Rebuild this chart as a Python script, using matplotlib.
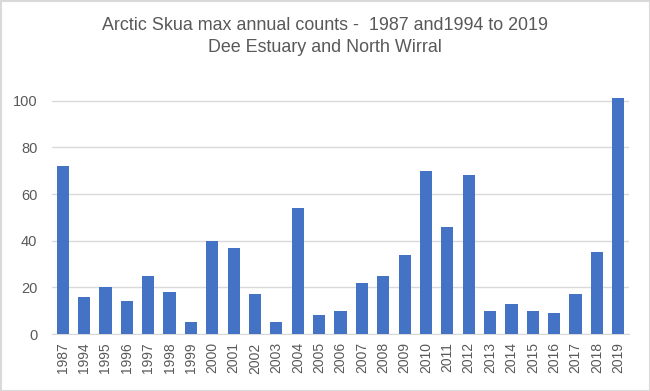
import matplotlib
matplotlib.use("Agg")
import matplotlib.pyplot as plt
from matplotlib.patches import Rectangle

years = ["1987", "1994", "1995", "1996", "1997", "1998", "1999", "2000", "2001",
         "2002", "2003", "2004", "2005", "2006", "2007", "2008", "2009", "2010",
         "2011", "2012", "2013", "2014", "2015", "2016", "2017", "2018", "2019"]
counts = [72, 16, 20, 14, 25, 18, 5, 40, 37, 17, 5, 54, 8, 10, 22, 25, 34, 70,
          46, 68, 10, 13, 10, 9, 17, 35, 101]
yticks = [0, 20, 40, 60, 80, 100]

plt.rcParams['font.family'] = ['Liberation Sans', 'DejaVu Sans']
txt = '#595959'
grid = '#d9d9d9'

fig = plt.figure(figsize=(6.5, 3.91), dpi=100)
ax = fig.add_axes([52/650, 1 - 334/391, (629-52)/650, (334-96)/391])

x = list(range(len(years)))
ax.bar(x, counts, width=0.57, color='#4472C4', zorder=3)
ax.set_xlim(-0.5, len(years) - 0.5)
ax.set_ylim(0, 102)
ax.set_yticks(yticks)
ax.set_yticklabels([str(v) for v in yticks], color=txt, fontsize=10.5)
ax.set_xticks(x)
ax.set_xticklabels(years, rotation=90, color=txt, fontsize=10)
ax.yaxis.grid(True, color=grid, linewidth=1, zorder=0)
for s in ['top', 'right', 'left']:
    ax.spines[s].set_visible(False)
ax.spines['bottom'].set_color(grid)
ax.tick_params(axis='y', length=0, pad=10.5)
ax.tick_params(axis='x', length=0, pad=6)

fig.text(0.5, 1 - 26/391, "Arctic Skua max annual counts -  1987 and1994 to 2019",
         ha='center', va='center', fontsize=12.9, color=txt)
fig.text(0.5, 1 - 47/391, "Dee Estuary and North Wirral",
         ha='center', va='center', fontsize=12.9, color=txt)

fig.add_artist(Rectangle((0.5/650, 0.5/391), 1 - 1/650, 1 - 1/391,
                         transform=fig.transFigure, fill=False,
                         edgecolor=grid, linewidth=1.5))

fig.savefig("out.png", dpi=100, facecolor='white')
